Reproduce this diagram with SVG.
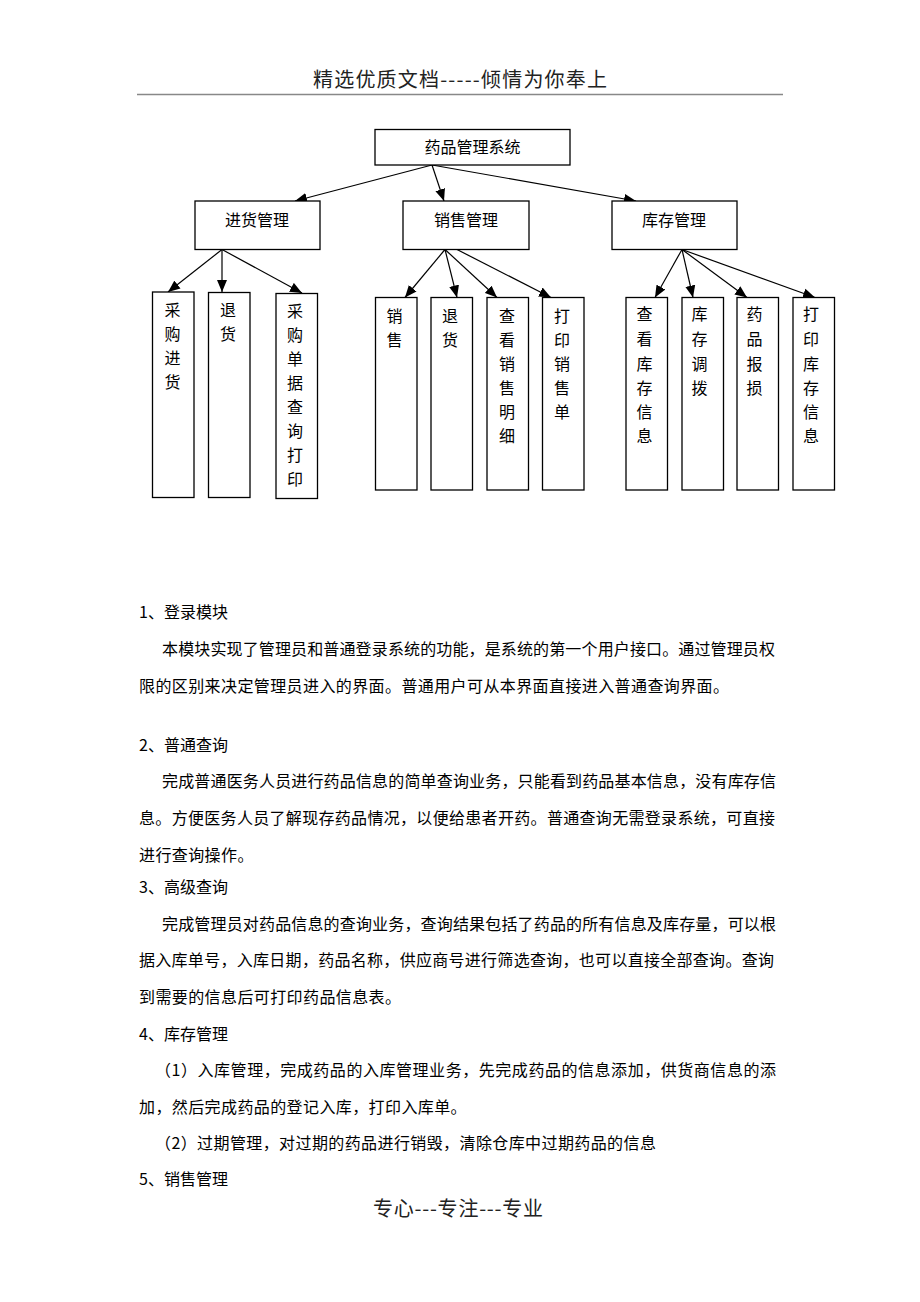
<svg xmlns="http://www.w3.org/2000/svg" width="920" height="1302" viewBox="0 0 920 1302">
<style>
text{font-family:"Noto Sans CJK SC","Liberation Sans",sans-serif;fill:#000}
.box{fill:#fff;stroke:#000;stroke-width:1.3}
.lbl{font-size:16px;text-anchor:middle}
.body{font-size:16px}
.hdr{font-size:20px;fill:#222}
.conn line{stroke:#000;stroke-width:1.2;marker-end:url(#arr)}
</style>
<defs>
<marker id="arr" markerUnits="userSpaceOnUse" markerWidth="13" markerHeight="11" refX="12" refY="5.5" orient="auto">
<path d="M0,0.5 L12,5.5 L0,10.5 Z" fill="#000"/>
</marker>
</defs>
<rect width="920" height="1302" fill="#fff"/>
<text class="hdr" x="313" y="87" textLength="294" lengthAdjust="spacing">精选优质文档-----倾情为你奉上</text>
<line x1="137" y1="94.5" x2="783" y2="94.5" stroke="#888" stroke-width="1.5"/>

<g class="conn">
<line x1="432" y1="165" x2="295" y2="201"/>
<line x1="432" y1="165" x2="444" y2="201"/>
<line x1="432" y1="165" x2="636" y2="201"/>
<line x1="222" y1="249.5" x2="168" y2="292"/>
<line x1="222" y1="249.5" x2="222" y2="292"/>
<line x1="222" y1="249.5" x2="302" y2="293"/>
<line x1="445" y1="249.5" x2="405" y2="297.5"/>
<line x1="445" y1="249.5" x2="457" y2="297.5"/>
<line x1="445" y1="249.5" x2="497" y2="297.5"/>
<line x1="457" y1="249.5" x2="551" y2="297.5"/>
<line x1="682" y1="249.5" x2="655" y2="297.5"/>
<line x1="682" y1="249.5" x2="693" y2="297.5"/>
<line x1="682" y1="249.5" x2="747" y2="297.5"/>
<line x1="682" y1="249.5" x2="815" y2="297.5"/>
</g>

<g id="root"><rect class="box" x="375" y="129.5" width="195" height="35.5"/><text class="lbl" x="472.5" y="153">药品管理系统</text></g>
<g id="jinhuo"><rect class="box" x="195" y="201" width="125" height="48.5"/><text class="lbl" x="257" y="226">进货管理</text></g>
<g id="xiaoshou"><rect class="box" x="403" y="201" width="126" height="48.5"/><text class="lbl" x="466" y="226">销售管理</text></g>
<g id="kucun"><rect class="box" x="612" y="201" width="125" height="48.5"/><text class="lbl" x="674" y="226">库存管理</text></g>

<g id="caigoujinhuo"><rect class="box" x="152.5" y="292" width="41.5" height="205.5"/>
<text class="lbl" x="172.5" y="316">采</text><text class="lbl" x="172.5" y="340">购</text><text class="lbl" x="172.5" y="364">进</text><text class="lbl" x="172.5" y="388">货</text></g>
<g id="tuihuo1"><rect class="box" x="208.5" y="292.5" width="41.5" height="205"/>
<text class="lbl" x="228" y="316">退</text><text class="lbl" x="228" y="340">货</text></g>
<g id="caigoudanju"><rect class="box" x="276" y="293.5" width="41.5" height="205"/>
<text class="lbl" x="295" y="317">采</text><text class="lbl" x="295" y="341">购</text><text class="lbl" x="295" y="365">单</text><text class="lbl" x="295" y="389">据</text><text class="lbl" x="295" y="413">查</text><text class="lbl" x="295" y="437">询</text><text class="lbl" x="295" y="461">打</text><text class="lbl" x="295" y="485">印</text></g>

<g id="xiaoshou2"><rect class="box" x="375.5" y="297.5" width="41.5" height="192.5"/>
<text class="lbl" x="394.5" y="322">销</text><text class="lbl" x="394.5" y="346">售</text></g>
<g id="tuihuo2"><rect class="box" x="431" y="297.5" width="41.5" height="192.5"/>
<text class="lbl" x="450" y="322">退</text><text class="lbl" x="450" y="346">货</text></g>
<g id="chakanxiaoshou"><rect class="box" x="487" y="297.5" width="41.5" height="192.5"/>
<text class="lbl" x="507" y="322">查</text><text class="lbl" x="507" y="346">看</text><text class="lbl" x="507" y="370">销</text><text class="lbl" x="507" y="394">售</text><text class="lbl" x="507" y="418">明</text><text class="lbl" x="507" y="442">细</text></g>
<g id="dayinxiaoshou"><rect class="box" x="542.5" y="297.5" width="41.5" height="192.5"/>
<text class="lbl" x="562" y="322">打</text><text class="lbl" x="562" y="346">印</text><text class="lbl" x="562" y="370">销</text><text class="lbl" x="562" y="394">售</text><text class="lbl" x="562" y="418">单</text></g>

<g id="chakankucun"><rect class="box" x="626" y="297.5" width="41.5" height="192.5"/>
<text class="lbl" x="644.5" y="320">查</text><text class="lbl" x="644.5" y="345">看</text><text class="lbl" x="644.5" y="370">库</text><text class="lbl" x="644.5" y="394">存</text><text class="lbl" x="644.5" y="418">信</text><text class="lbl" x="644.5" y="442">息</text></g>
<g id="kucuntiaobo"><rect class="box" x="682" y="297.5" width="41.5" height="192.5"/>
<text class="lbl" x="699.5" y="320">库</text><text class="lbl" x="699.5" y="345">存</text><text class="lbl" x="699.5" y="370">调</text><text class="lbl" x="699.5" y="394">拨</text></g>
<g id="yaopinbaosun"><rect class="box" x="737" y="297.5" width="41.5" height="192.5"/>
<text class="lbl" x="754.5" y="320">药</text><text class="lbl" x="754.5" y="345">品</text><text class="lbl" x="754.5" y="370">报</text><text class="lbl" x="754.5" y="394">损</text></g>
<g id="dayinkucun"><rect class="box" x="793" y="297.5" width="41.5" height="192.5"/>
<text class="lbl" x="811" y="320">打</text><text class="lbl" x="811" y="345">印</text><text class="lbl" x="811" y="370">库</text><text class="lbl" x="811" y="394">存</text><text class="lbl" x="811" y="418">信</text><text class="lbl" x="811" y="442">息</text></g>

<g id="bodytext" class="body">
<text class="body" x="139" y="618">1、登录模块</text>
<text class="body" x="162" y="655" textLength="613" lengthAdjust="spacing">本模块实现了管理员和普通登录系统的功能，是系统的第一个用户接口。通过管理员权</text>
<text class="body" x="139" y="692" letter-spacing="0.4">限的区别来决定管理员进入的界面。普通用户可从本界面直接进入普通查询界面。</text>
<text class="body" x="139" y="751">2、普通查询</text>
<text class="body" x="162" y="787" textLength="614" lengthAdjust="spacing">完成普通医务人员进行药品信息的简单查询业务，只能看到药品基本信息，没有库存信</text>
<text class="body" x="139" y="824" textLength="636" lengthAdjust="spacing">息。方便医务人员了解现存药品情况，以便给患者开药。普通查询无需登录系统，可直接</text>
<text class="body" x="139" y="861" letter-spacing="0.4">进行查询操作。</text>
<text class="body" x="139" y="893">3、高级查询</text>
<text class="body" x="162" y="930" textLength="614" lengthAdjust="spacing">完成管理员对药品信息的查询业务，查询结果包括了药品的所有信息及库存量，可以根</text>
<text class="body" x="139" y="966" textLength="635" lengthAdjust="spacing">据入库单号，入库日期，药品名称，供应商号进行筛选查询，也可以直接全部查询。查询</text>
<text class="body" x="139" y="1003" letter-spacing="0.4">到需要的信息后可打印药品信息表。</text>
<text class="body" x="139" y="1040">4、库存管理</text>
<text class="body" x="155" y="1076" textLength="621" lengthAdjust="spacing">（1）入库管理，完成药品的入库管理业务，先完成药品的信息添加，供货商信息的添</text>
<text class="body" x="139" y="1113" letter-spacing="0.4">加，然后完成药品的登记入库，打印入库单。</text>
<text class="body" x="155" y="1149" letter-spacing="0.4">（2）过期管理，对过期的药品进行销毁，清除仓库中过期药品的信息</text>
<text class="body" x="139" y="1185">5、销售管理</text>
</g>
<text class="hdr" x="373" y="1216" textLength="170" lengthAdjust="spacing">专心---专注---专业</text>
</svg>
